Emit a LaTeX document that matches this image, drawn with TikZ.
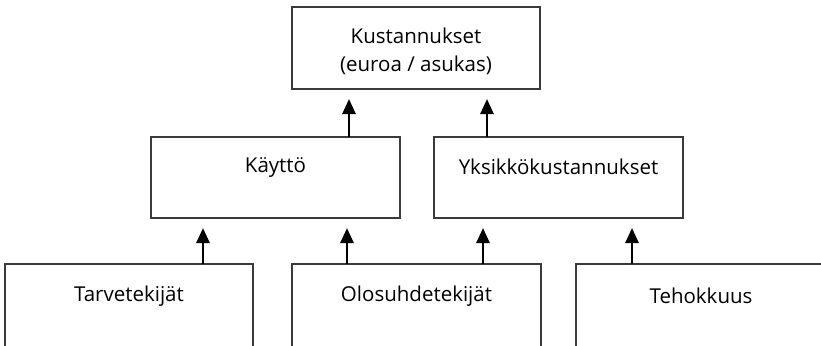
\documentclass[tikz,border=0pt]{standalone}
\usepackage{fontspec}
\setmainfont{Open Sans}
\usetikzlibrary{arrows.meta}
\definecolor{boxline}{HTML}{3A3A3A}
\tikzset{
  box/.style={draw=boxline, line width=1.2pt, rectangle, inner sep=0pt, outer sep=0pt},
  arr/.style={line width=2.6pt, -{Triangle[width=13pt,length=15pt]}, shorten >=10pt},
  lbl/.style={font=\fontsize{20.5}{28}\selectfont, text=black}
}
\begin{document}
\begin{tikzpicture}[x=1pt,y=-1pt]
\useasboundingbox (0,0) rectangle (821,345);
\clip (0,0) rectangle (821,345);
\node[box, minimum width=248pt, minimum height=82pt,
      label={[lbl, align=center, anchor=center, yshift=-3.5pt]center:Kustannukset\\(euroa / asukas)}] (kust) at (416,48) {};
\node[box, minimum width=249pt, minimum height=81pt,
      label={[lbl, anchor=center, yshift=10.5pt]center:Käyttö}] (kaytto) at (275.5,177.5) {};
\node[box, minimum width=249pt, minimum height=81pt,
      label={[lbl, anchor=center, yshift=10.5pt]center:Yksikkökustannukset}] (yks) at (558.5,177.5) {};
\node[box, minimum width=248pt, minimum height=160pt,
      label={[lbl, anchor=center, yshift=-32pt]north:Tarvetekijät}] (tarve) at (129,344) {};
\node[box, minimum width=249pt, minimum height=160pt,
      label={[lbl, anchor=center, yshift=-32pt]north:Olosuhdetekijät}] (olo) at (416.5,344) {};
\node[box, minimum width=250pt, minimum height=160pt,
      label={[lbl, anchor=center, yshift=-32pt]north:Tehokkuus}] (teho) at (701,344) {};
\draw[arr] ([xshift=73.5pt]kaytto.north) -- ([xshift=73.5pt]kaytto.north |- kust.south);
\draw[arr] ([xshift=-71.5pt]yks.north) -- ([xshift=-71.5pt]yks.north |- kust.south);
\draw[arr] ([xshift=74pt]tarve.north) -- ([xshift=74pt]tarve.north |- kaytto.south);
\draw[arr] ([xshift=-69.5pt]olo.north) -- ([xshift=-69.5pt]olo.north |- kaytto.south);
\draw[arr] ([xshift=66.5pt]olo.north) -- ([xshift=66.5pt]olo.north |- yks.south);
\draw[arr] ([xshift=-69pt]teho.north) -- ([xshift=-69pt]teho.north |- yks.south);
\end{tikzpicture}
\end{document}
